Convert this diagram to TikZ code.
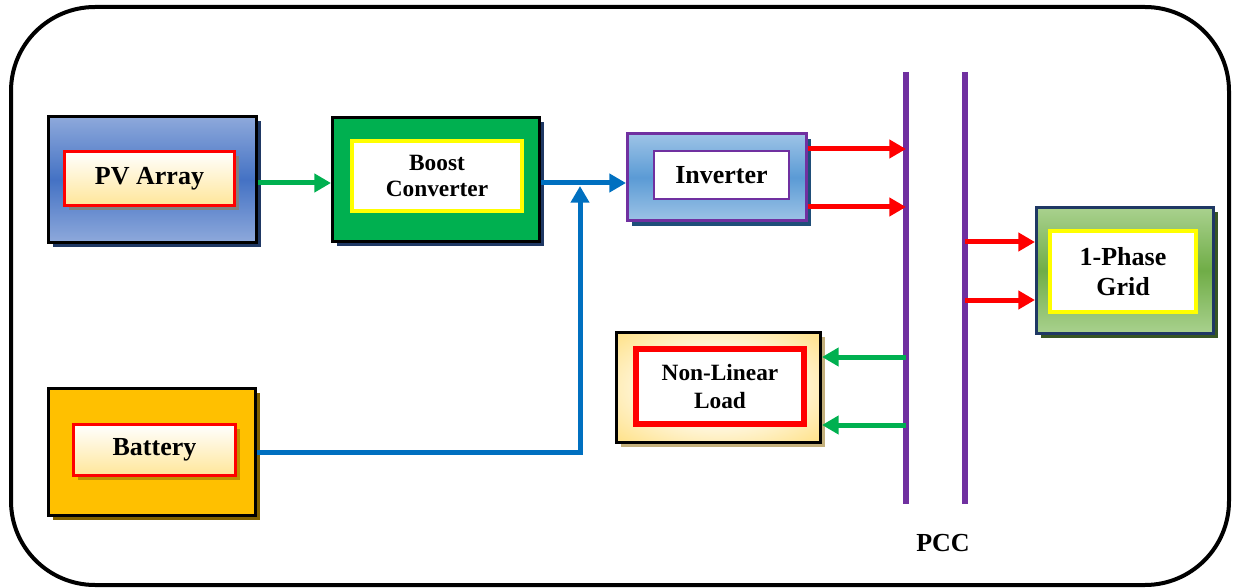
\documentclass[tikz,border=0pt]{standalone}
\usepackage{fontspec}
\setmainfont{Liberation Serif}
\usetikzlibrary{arrows.meta,shadows,calc}

\definecolor{pvblue}{HTML}{4472C4}
\definecolor{pvlight}{HTML}{8EA9DB}
\definecolor{navy}{HTML}{1F3864}
\definecolor{bgreen}{HTML}{00B050}
\definecolor{invlight}{HTML}{9DC3E6}
\definecolor{invmid}{HTML}{5B9BD5}
\definecolor{invshadow}{HTML}{1F4E79}
\definecolor{purp}{HTML}{7030A0}
\definecolor{loadyel}{HTML}{FFD966}
\definecolor{loadpale}{HTML}{FFF6DC}
\definecolor{loadshadow}{HTML}{C4B07C}
\definecolor{gridlight}{HTML}{A9D18E}
\definecolor{gridmid}{HTML}{70AD47}
\definecolor{gridshadow}{HTML}{375623}
\definecolor{batyel}{HTML}{FFC000}
\definecolor{batshadow}{HTML}{7F6000}
\definecolor{batinshadow}{HTML}{BF9000}
\definecolor{cream}{HTML}{FFE699}
\definecolor{arrblue}{HTML}{0070C0}
\definecolor{yel}{HTML}{FFFF00}

\pgfdeclareradialshading{loadshade}{\pgfpoint{0bp}{0bp}}{color(0bp)=(loadpale); color(18bp)=(loadpale); color(42bp)=(loadyel); color(50bp)=(loadyel)}

\tikzset{every picture/.style={line width=0.75pt}}
\tikzset{
  sz/.style 2 args={minimum width=#1*0.75pt,minimum height=#2*0.75pt},
  outerbox/.style={draw=black,line width=2.25pt,inner sep=0pt},
  innerbox/.style={inner sep=0pt,align=center,font=\fontsize{19.5}{22}\selectfont\bfseries},
  twoline/.style={font=\fontsize{17.5}{20.5}\selectfont\bfseries},
  shad/.style={drop shadow={shadow xshift=3.5pt,shadow yshift=-3.5pt,opacity=1,fill=#1}},
  flow/.style={line width=3.75pt,-{Triangle[length=12.5pt,width=13.5pt]}},
  bus/.style={purp,line width=4.5pt}
}

\begin{document}
\begin{tikzpicture}[x=0.75pt,y=0.75pt,yscale=-1,xscale=1]
        \useasboundingbox (0,0) rectangle (1236,588);
        \draw [line width=3pt,rounded corners=63pt] (11,7) rectangle (1229,585);

        % sources
        \node [outerbox,sz={208}{126},top color=pvlight,bottom color=pvlight,middle color=pvblue,shad=navy] (pv) at (152.5,179.5) {};
        \node [innerbox,sz={170}{54},draw=red,line width=2.25pt,top color=white,bottom color=cream,shad=gray] (pvtxt) at (149.5,178.5) {PV Array};

        \node [outerbox,sz={207}{127},fill=batyel,shad=batshadow] (bat) at (152,452) {};
        \node [innerbox,sz={162}{51},draw=red,line width=2.25pt,top color=white,bottom color=cream,shad=batinshadow] (battxt) at (154.5,450) {Battery};

        % converters
        \node [outerbox,sz={207}{124},fill=bgreen,shad=navy] (boost) at (436,179.5) {};
        \node [innerbox,twoline,sz={170}{70},draw=yel,line width=3pt,fill=white] (boosttxt) at (437,176) {Boost\\[-1pt]Converter};

        \node [outerbox,draw=purp,sz={179}{87},top color=invlight,bottom color=invlight,middle color=invmid,shad=invshadow] (inv) at (717,177.5) {};
        \node [innerbox,sz={135}{48},draw=purp,line width=1.5pt,fill=white] (invtxt) at (721.5,175) {Inverter};

        % load and grid
        \node [outerbox,sz={204}{110},shading=loadshade,shad=loadshadow] (load) at (718.5,387.5) {};
        \node [innerbox,twoline,sz={168}{75},draw=red,line width=4.5pt,fill=white] (loadtxt) at (720,386.5) {Non-Linear\\[1pt]Load};

        \node [outerbox,draw=navy,sz={177}{126},top color=gridlight,bottom color=gridlight,middle color=gridmid,shad=gridshadow] (grid) at (1125,270.5) {};
        \node [innerbox,sz={146}{81},draw=yel,line width=3pt,fill=white] (gridtxt) at (1123,271.5) {1-Phase\\[1pt]Grid};

        % PCC bus
        \coordinate (busAtop) at (906,72);
        \coordinate (busAbot) at (906,504);
        \coordinate (busBtop) at (965,72);
        \coordinate (busBbot) at (965,504);
        \draw [bus] (busAtop) -- (busAbot);
        \draw [bus] (busBtop) -- (busBbot);
        \node [font=\fontsize{19.5}{22}\selectfont\bfseries] (pcc) at (943,543) {PCC};

        \coordinate (a1) at (906,149);
        \coordinate (a2) at (906,207);
        \coordinate (a3) at (906,357);
        \coordinate (a4) at (906,425);
        \coordinate (b1) at (965,242);
        \coordinate (b2) at (965,300);
        \coordinate (dcbus) at (580,183);

        % connections
        \draw [flow,bgreen] (pv.east |- dcbus) -- (boost.west |- dcbus);
        \draw [flow,arrblue] (boost.east |- dcbus) -- (inv.west |- dcbus);
        \draw [flow,arrblue] (bat.east) -| ($(dcbus)+(0,3)$);
        \draw [flow,red] (inv.east |- a1) -- (a1);
        \draw [flow,red] (inv.east |- a2) -- (a2);
        \draw [flow,bgreen] (a3) -- (load.east |- a3);
        \draw [flow,bgreen] (a4) -- (load.east |- a4);
        \draw [flow,red] (b1) -- (grid.west |- b1);
        \draw [flow,red] (b2) -- (grid.west |- b2);
    \end{tikzpicture}
\end{document}
